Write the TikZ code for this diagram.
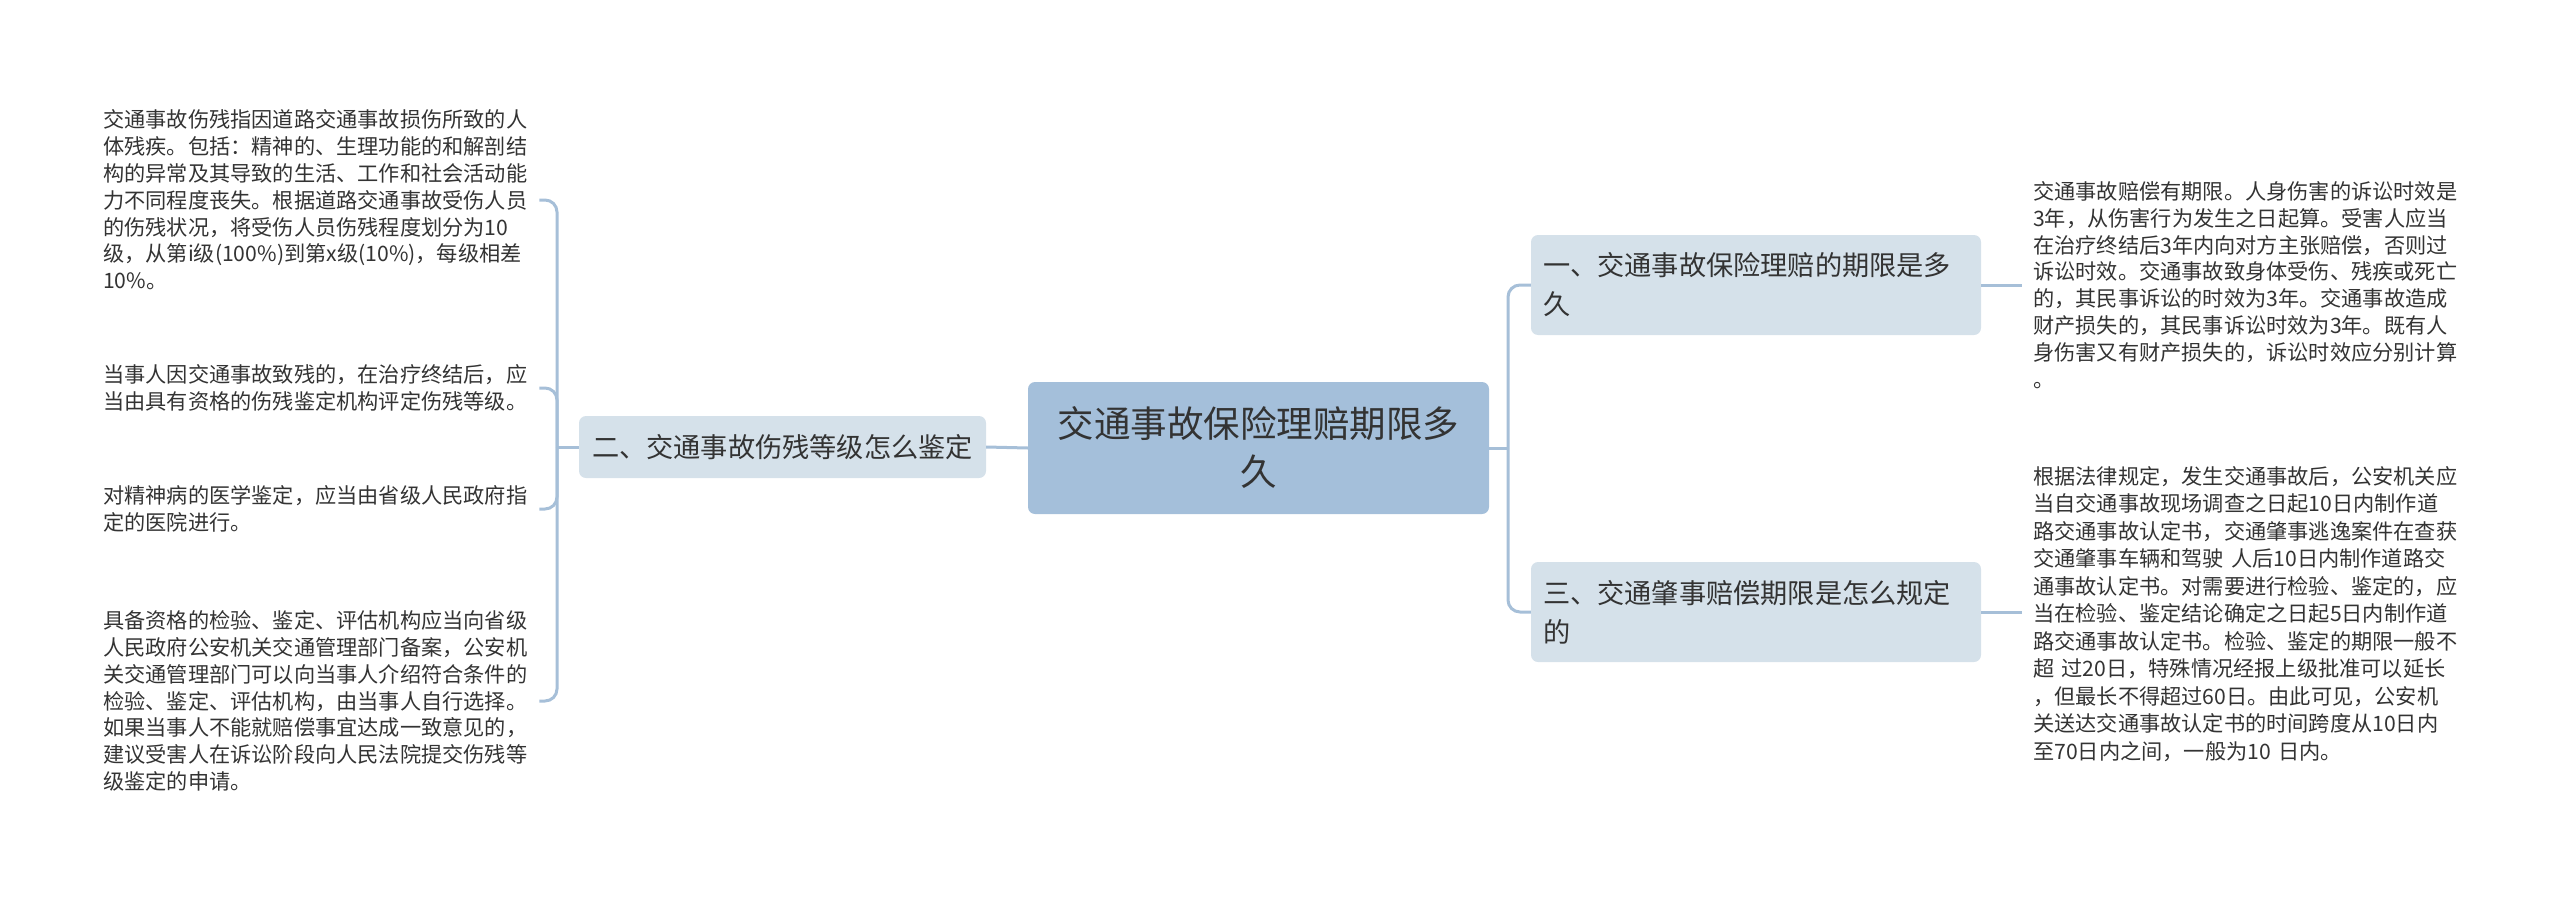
\documentclass[tikz,border=0pt]{standalone}
\usepackage{fontspec}
\setmainfont{Noto Sans CJK SC}
\definecolor{rootfill}{HTML}{A4BFDA}
\definecolor{subfill}{HTML}{D5E1EA}
\definecolor{linec}{HTML}{A6BFD8}
\definecolor{txt}{HTML}{333333}
\tikzset{
  rootbox/.style={fill=rootfill, rounded corners=7pt, minimum width=461pt, minimum height=132pt, align=center, text=txt, font=\fontsize{36.5}{48}\selectfont, inner sep=0pt},
  subbox/.style={fill=subfill, rounded corners=7pt, minimum height=#1, text=txt, font=\fontsize{27.2}{39}\selectfont, inner xsep=12pt, inner ysep=0pt},
  leafl/.style={anchor=west, align=left, text width=428pt, inner xsep=8pt, inner ysep=0pt, text=txt, font=\fontsize{21.2}{26.8}\selectfont},
  leafr/.style={anchor=west, align=left, text width=440pt, inner xsep=11pt, inner ysep=0pt, text=txt, font=\fontsize{21.2}{26.8}\selectfont},
  conn/.style={draw=linec, line width=3pt},
}
\begin{document}
\begin{tikzpicture}[x=1pt,y=-1pt]
\useasboundingbox (0,0) rectangle (2560,897);
% root
\node[rootbox] (root) at (1258.5,448) {交通事故保险理赔期限多\\久};
% sub nodes
\node[subbox=100pt, minimum width=450pt, text width=426pt, align=left] (n1) at (1756,285) {一、交通事故保险理赔的期限是多\\久};
\node[subbox=100pt, minimum width=450pt, text width=426pt, align=left] (n3) at (1756,612) {三、交通肇事赔偿期限是怎么规定\\的};
\node[subbox=62pt, minimum width=407pt, align=center] (n2) at (782.5,447) {二、交通事故伤残等级怎么鉴定};
% right leaves
\node[leafr] (r1) at (2022,285) {交通事故赔偿有期限。人身伤害的诉讼时效是\\3年，从伤害行为发生之日起算。受害人应当\\在治疗终结后3年内向对方主张赔偿，否则过\\诉讼时效。交通事故致身体受伤、残疾或死亡\\的，其民事诉讼的时效为3年。交通事故造成\\财产损失的，其民事诉讼时效为3年。既有人\\身伤害又有财产损失的，诉讼时效应分别计算\\。};
\node[leafr, font=\fontsize{21.2}{27.5}\selectfont] (r2) at (2022,614) {根据法律规定，发生交通事故后，公安机关应\\当自交通事故现场调查之日起10日内制作道\\路交通事故认定书，交通肇事逃逸案件在查获\\交通肇事车辆和驾驶 人后10日内制作道路交\\通事故认定书。对需要进行检验、鉴定的，应\\当在检验、鉴定结论确定之日起5日内制作道\\路交通事故认定书。检验、鉴定的期限一般不\\超 过20日，特殊情况经报上级批准可以延长\\，但最长不得超过60日。由此可见，公安机\\关送达交通事故认定书的时间跨度从10日内\\至70日内之间，一般为10 日内。};
% left leaves
\node[leafl] (l1) at (95,200) {交通事故伤残指因道路交通事故损伤所致的人\\体残疾。包括：精神的、生理功能的和解剖结\\构的异常及其导致的生活、工作和社会活动能\\力不同程度丧失。根据道路交通事故受伤人员\\的伤残状况，将受伤人员伤残程度划分为10\\级，从第i级(100\%)到第x级(10\%)，每级相差\\10\%。};
\node[leafl] (l2) at (95,388) {当事人因交通事故致残的，在治疗终结后，应\\当由具有资格的伤残鉴定机构评定伤残等级。};
\node[leafl] (l3) at (95,509) {对精神病的医学鉴定，应当由省级人民政府指\\定的医院进行。};
\node[leafl] (l4) at (95,701) {具备资格的检验、鉴定、评估机构应当向省级\\人民政府公安机关交通管理部门备案，公安机\\关交通管理部门可以向当事人介绍符合条件的\\检验、鉴定、评估机构，由当事人自行选择。\\如果当事人不能就赔偿事宜达成一致意见的，\\建议受害人在诉讼阶段向人民法院提交伤残等\\级鉴定的申请。};
% junctions
\coordinate (jr) at (1508,448);
\coordinate (jl) at (557,447);
% connectors right
\draw[conn] (root.east) -- (jr);
\draw[conn, rounded corners=12pt] (jr) |- (n1.west);
\draw[conn, rounded corners=12pt] (jr) |- (n3.west);
\draw[conn] (n1.east) -- (r1.west);
\draw[conn] (n3.east) -- (n3.east -| r2.west);
% connectors left
\draw[conn] (root.west) -- (n2.east);
\draw[conn] (n2.west) -- (jl);
\draw[conn, rounded corners=12pt] (jl) |- (l1.east);
\draw[conn, rounded corners=12pt] (jl) |- (l2.east);
\draw[conn, rounded corners=12pt] (jl) |- (l3.east);
\draw[conn, rounded corners=12pt] (jl) |- (l4.east);
\end{tikzpicture}
\end{document}
